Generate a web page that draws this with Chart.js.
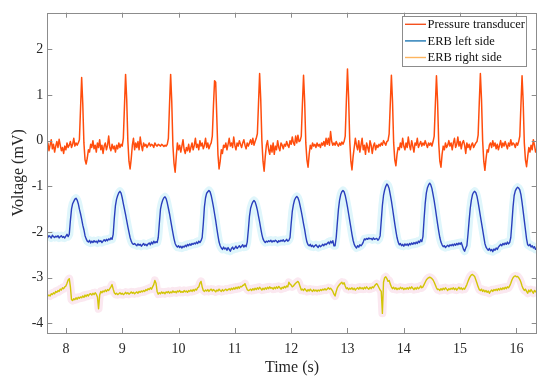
<!DOCTYPE html>
<html>
<head>
<meta charset="utf-8">
<script src="https://cdn.jsdelivr.net/npm/chart.js@4.4.1/dist/chart.umd.min.js"></script>
<style>
  body { margin: 0; background: #fff; }
  canvas { display: block; }
</style>
</head>
<body>
<canvas id="erb-chart" width="550" height="383"></canvas>
<script>
// samples every 20 ms, first sample at 7.66 s
var t0 = 7.66;
var dt = 0.02;

var seriesNames = ['Pressure transducer', 'ERB left side', 'ERB right side'];
var xTicks = [8, 9, 10, 11, 12, 13, 14, 15, 16];
var yTicks = [-4, -3, -2, -1, 0, 1, 2];

// Pressure transducer (mV)
var pressure = [
	-0.2, -0.05, -0.22, -0.1, 0.02, -0.18, -0.08, -0.25, -0.12, -0.02, -0.15, 0.03, -0.1, -0.22, -0.15, -0.28, -0.12, -0.2, -0.05, -0.15,
	-0.1, -0.02, -0.15, -0.08, 0.05, -0.12, -0.05, -0.1, -0.05, 0.02, 0.7, 1.38, 0.8, -0.05, -0.42, -0.51, -0.38, -0.2, -0.25, -0.08,
	-0.15, 0.0, -0.18, -0.1, -0.25, -0.05, -0.15, 0.02, -0.2, -0.1, -0.28, -0.12, -0.05, -0.2, -0.1, 0.1, -0.15, -0.22, -0.08, -0.18,
	-0.12, -0.25, -0.1, -0.18, -0.05, -0.15, -0.08, -0.12, 0.05, 0.75, 1.45, 0.9, 0.0, -0.45, -0.62, -0.4, -0.1, 0.05, -0.2, -0.05,
	-0.15, -0.02, -0.2, 0.08, -0.1, -0.22, -0.05, -0.12, -0.08, -0.15, -0.1, -0.05, -0.12, -0.08, -0.1, -0.15, -0.05, -0.1, -0.12, -0.08,
	-0.1, -0.12, -0.08, -0.1, -0.13, -0.1, -0.12, -0.08, 0.05, 0.78, 1.45, 0.85, -0.1, -0.5, -0.69, -0.35, -0.05, -0.2, -0.1, -0.25,
	-0.12, 0.02, -0.2, -0.28, -0.15, -0.22, -0.08, -0.25, -0.15, -0.05, -0.2, -0.1, 0.05, -0.15, -0.08, -0.2, 0.0, -0.12, -0.05, -0.18,
	-0.1, 0.05, -0.15, -0.05, -0.18, -0.1, -0.05, 0.1, 0.75, 1.31, 1.28, 0.5, -0.3, -0.62, -0.45, -0.2, -0.28, -0.1, -0.15, -0.05,
	-0.2, -0.08, 0.05, -0.12, -0.05, -0.15, 0.08, -0.1, -0.2, -0.05, -0.12, 0.0, -0.08, -0.15, -0.05, 0.02, -0.1, -0.18, -0.05, -0.12,
	-0.05, 0.02, -0.08, 0.05, -0.1, -0.02, 0.05, 0.15, 0.8, 1.47, 0.9, 0.0, -0.45, -0.67, -0.35, -0.1, 0.0, -0.2, -0.3, -0.1,
	-0.25, -0.05, -0.3, -0.12, -0.2, 0.0, -0.15, -0.22, -0.05, -0.1, -0.18, -0.08, -0.12, -0.02, -0.1, -0.15, 0.0, -0.08, 0.08, -0.05,
	-0.1, 0.1, -0.05, 0.12, -0.02, 0.0, 0.1, 0.8, 1.43, 0.85, -0.05, -0.42, -0.58, -0.3, -0.1, -0.18, -0.05, -0.12, -0.08, -0.15,
	-0.05, -0.12, -0.08, -0.15, -0.05, -0.1, -0.02, -0.12, 0.05, -0.08, 0.05, -0.1, 0.2, -0.02, -0.1, -0.05, -0.1, -0.02, -0.08, -0.12,
	-0.05, -0.1, -0.03, -0.08, -0.02, 0.1, 0.85, 1.57, 0.95, 0.0, -0.45, -0.64, -0.35, -0.15, 0.05, -0.1, -0.2, 0.0, -0.25, -0.1,
	0.05, -0.2, -0.1, -0.3, -0.05, -0.15, -0.25, 0.0, -0.1, -0.28, -0.12, -0.05, -0.2, -0.1, -0.15, -0.08, -0.12, -0.05, -0.1, 0.0,
	-0.05, -0.1, -0.02, 0.0, 0.15, 0.8, 1.43, 0.85, -0.05, -0.42, -0.55, -0.3, -0.15, -0.2, -0.05, -0.15, 0.05, -0.12, -0.2, -0.05,
	-0.15, 0.08, -0.1, -0.2, 0.0, -0.12, -0.25, -0.05, -0.1, 0.05, -0.15, -0.08, -0.02, -0.12, -0.05, -0.1, 0.0, -0.08, -0.15, -0.05,
	-0.1, -0.05, -0.12, -0.02, 0.1, 0.78, 1.42, 0.85, -0.05, -0.45, -0.58, -0.3, -0.12, -0.2, -0.05, -0.15, -0.1, 0.0, -0.12, -0.05,
	-0.2, -0.05, 0.05, -0.15, -0.08, 0.08, -0.12, -0.02, -0.18, -0.05, 0.0, -0.1, -0.28, -0.05, -0.15, -0.08, -0.2, -0.1, -0.05, -0.15,
	-0.1, -0.05, -0.02, 0.12, 0.82, 1.47, 0.9, 0.0, -0.45, -0.65, -0.4, -0.2, -0.25, -0.1, -0.05, -0.15, 0.0, -0.12, -0.05, -0.18,
	-0.08, -0.2, -0.1, 0.0, -0.15, -0.05, -0.12, -0.02, -0.1, -0.18, -0.05, -0.12, 0.02, -0.1, -0.05, -0.08, -0.15, -0.05, -0.1, -0.02,
	0.1, 0.78, 1.42, 0.85, -0.05, -0.42, -0.57, -0.35, -0.15, -0.25, -0.1, -0.2, 0.02, -0.1, -0.25, -0.18
];

// ERB left side (mV)
var erbLeft = [
	-2.15, -2.12, -2.08, -2.1, -2.13, -2.07, -2.1, -2.12, -2.09, -2.11, -2.08, -2.13, -2.1, -2.08, -2.12, -2.1, -2.13, -2.09, -2.05, -2.1,
	-2.05, -1.75, -1.5, -1.38, -1.33, -1.28, -1.26, -1.3, -1.38, -1.5, -1.6, -1.72, -1.85, -1.95, -2.08, -2.15, -2.2, -2.22, -2.18, -2.24,
	-2.2, -2.23, -2.19, -2.22, -2.2, -2.24, -2.18, -2.21, -2.19, -2.23, -2.2, -2.17, -2.2, -2.16, -2.19, -2.15, -2.17, -2.13, -2.16, -2.05,
	-1.7, -1.42, -1.28, -1.2, -1.14, -1.11, -1.15, -1.25, -1.38, -1.5, -1.62, -1.75, -1.88, -2.0, -2.12, -2.2, -2.25, -2.27, -2.25, -2.28,
	-2.3, -2.26, -2.29, -2.27, -2.31, -2.28, -2.25, -2.29, -2.27, -2.3, -2.26, -2.24, -2.28, -2.22, -2.26, -2.2, -2.24, -2.21, -2.23, -2.12,
	-1.8, -1.5, -1.38, -1.3, -1.25, -1.23, -1.27, -1.36, -1.48, -1.6, -1.74, -1.88, -2.02, -2.15, -2.25, -2.3, -2.33, -2.3, -2.34, -2.31,
	-2.35, -2.31, -2.33, -2.29, -2.32, -2.27, -2.3, -2.26, -2.29, -2.25, -2.27, -2.24, -2.26, -2.22, -2.25, -2.2, -2.23, -2.19, -2.12, -1.82,
	-1.45, -1.25, -1.15, -1.12, -1.09, -1.12, -1.2, -1.32, -1.45, -1.6, -1.75, -1.92, -2.08, -2.22, -2.3, -2.35, -2.38, -2.33, -2.37, -2.35,
	-2.4, -2.34, -2.38, -2.42, -2.36, -2.33, -2.38, -2.35, -2.31, -2.36, -2.33, -2.3, -2.34, -2.31, -2.28, -2.33, -2.29, -2.32, -2.22, -1.95,
	-1.65, -1.48, -1.4, -1.34, -1.31, -1.34, -1.42, -1.52, -1.65, -1.78, -1.92, -2.05, -2.15, -2.2, -2.23, -2.2, -2.22, -2.19, -2.21, -2.18,
	-2.22, -2.19, -2.21, -2.18, -2.2, -2.23, -2.19, -2.21, -2.18, -2.2, -2.17, -2.21, -2.19, -2.16, -2.2, -2.18, -2.12, -1.82, -1.55, -1.4,
	-1.3, -1.25, -1.22, -1.25, -1.32, -1.43, -1.55, -1.68, -1.82, -1.95, -2.1, -2.22, -2.28, -2.3, -2.27, -2.32, -2.29, -2.33, -2.3, -2.28,
	-2.31, -2.34, -2.29, -2.32, -2.3, -2.27, -2.3, -2.26, -2.28, -2.25, -2.22, -2.26, -2.2, -2.24, -2.19, -2.3, -2.3, -2.12, -1.8, -1.5,
	-1.3, -1.18, -1.12, -1.09, -1.12, -1.2, -1.32, -1.45, -1.6, -1.75, -1.9, -2.05, -2.18, -2.27, -2.32, -2.35, -2.3, -2.33, -2.28, -2.3,
	-2.27, -2.22, -2.15, -2.17, -2.14, -2.16, -2.13, -2.15, -2.14, -2.17, -2.13, -2.16, -2.15, -2.14, -2.18, -2.15, -2.08, -1.75, -1.42, -1.2,
	-1.08, -1.0, -0.95, -0.98, -1.05, -1.18, -1.32, -1.48, -1.65, -1.82, -1.98, -2.12, -2.22, -2.28, -2.25, -2.3, -2.27, -2.31, -2.26, -2.29,
	-2.26, -2.3, -2.25, -2.28, -2.24, -2.27, -2.23, -2.26, -2.22, -2.25, -2.2, -2.23, -2.17, -2.21, -2.1, -1.72, -1.38, -1.15, -1.03, -0.97,
	-0.93, -0.97, -1.05, -1.18, -1.32, -1.48, -1.65, -1.82, -1.98, -2.12, -2.22, -2.28, -2.32, -2.3, -2.34, -2.31, -2.29, -2.32, -2.28, -2.3,
	-2.27, -2.3, -2.26, -2.29, -2.25, -2.28, -2.24, -2.27, -2.23, -2.3, -2.38, -2.42, -2.35, -2.3, -2.05, -1.75, -1.48, -1.3, -1.18, -1.13,
	-1.11, -1.14, -1.22, -1.35, -1.5, -1.65, -1.8, -1.95, -2.1, -2.25, -2.33, -2.37, -2.4, -2.36, -2.41, -2.38, -2.43, -2.37, -2.4, -2.35,
	-2.38, -2.33, -2.3, -2.27, -2.3, -2.25, -2.28, -2.24, -2.27, -2.22, -2.26, -2.23, -2.12, -1.8, -1.45, -1.2, -1.1, -1.05, -1.02, -1.04,
	-1.08, -1.18, -1.35, -1.55, -1.75, -1.95, -2.15, -2.28, -2.3, -2.27, -2.33, -2.3, -2.35, -2.32, -2.38, -2.35
];

// ERB right side (mV)
var erbRight = [
	-3.42, -3.4, -3.38, -3.4, -3.35, -3.37, -3.33, -3.35, -3.3, -3.32, -3.28, -3.3, -3.25, -3.27, -3.22, -3.24, -3.2, -3.18, -3.12, -3.05,
	-3.02, -3.2, -3.48, -3.5, -3.46, -3.48, -3.44, -3.47, -3.43, -3.45, -3.42, -3.44, -3.4, -3.43, -3.38, -3.41, -3.37, -3.4, -3.36, -3.35,
	-3.38, -3.34, -3.37, -3.33, -3.36, -3.42, -3.68, -3.38, -3.3, -3.33, -3.29, -3.31, -3.27, -3.3, -3.26, -3.28, -3.24, -3.2, -3.15, -3.25,
	-3.33, -3.36, -3.34, -3.37, -3.35, -3.33, -3.36, -3.34, -3.37, -3.35, -3.32, -3.35, -3.33, -3.36, -3.34, -3.31, -3.34, -3.32, -3.35, -3.33,
	-3.31, -3.34, -3.3, -3.32, -3.29, -3.31, -3.28, -3.3, -3.26, -3.28, -3.24, -3.26, -3.22, -3.25, -3.2, -3.15, -3.06, -3.12, -3.3, -3.36,
	-3.33, -3.35, -3.31, -3.34, -3.32, -3.35, -3.31, -3.33, -3.3, -3.34, -3.31, -3.33, -3.29, -3.32, -3.3, -3.33, -3.29, -3.31, -3.28, -3.32,
	-3.3, -3.32, -3.28, -3.31, -3.29, -3.32, -3.28, -3.3, -3.27, -3.3, -3.26, -3.29, -3.25, -3.27, -3.22, -3.2, -3.12, -3.08, -3.2, -3.28,
	-3.3, -3.27, -3.29, -3.26, -3.3, -3.27, -3.25, -3.29, -3.26, -3.28, -3.31, -3.27, -3.29, -3.25, -3.28, -3.3, -3.26, -3.29, -3.27, -3.25,
	-3.28, -3.26, -3.24, -3.27, -3.23, -3.26, -3.22, -3.25, -3.21, -3.24, -3.2, -3.23, -3.19, -3.2, -3.17, -3.16, -3.13, -3.2, -3.26, -3.28,
	-3.27, -3.25, -3.28, -3.24, -3.27, -3.23, -3.26, -3.22, -3.25, -3.21, -3.24, -3.27, -3.23, -3.26, -3.22, -3.25, -3.21, -3.24, -3.2, -3.23,
	-3.22, -3.25, -3.21, -3.24, -3.2, -3.23, -3.19, -3.22, -3.25, -3.21, -3.23, -3.19, -3.22, -3.18, -3.2, -3.1, -3.14, -3.16, -3.2, -3.18,
	-3.15, -3.12, -3.1, -3.08, -3.12, -3.2, -3.27, -3.25, -3.28, -3.24, -3.27, -3.3, -3.26, -3.29, -3.25, -3.28, -3.3, -3.26, -3.29, -3.27,
	-3.3, -3.27, -3.29, -3.26, -3.28, -3.25, -3.27, -3.24, -3.27, -3.25, -3.22, -3.25, -3.23, -3.26, -3.3, -3.36, -3.4, -3.3, -3.22, -3.18,
	-3.15, -3.12, -3.1, -3.14, -3.11, -3.18, -3.24, -3.22, -3.26, -3.23, -3.25, -3.22, -3.26, -3.23, -3.27, -3.24, -3.22, -3.25, -3.21, -3.24,
	-3.22, -3.25, -3.21, -3.24, -3.2, -3.23, -3.25, -3.21, -3.24, -3.2, -3.22, -3.18, -3.15, -3.13, -3.17, -3.22, -3.27, -3.3, -3.78, -3.1,
	-3.0, -2.98, -3.02, -3.08, -3.06, -3.14, -3.2, -3.24, -3.21, -3.25, -3.22, -3.26, -3.23, -3.25, -3.21, -3.24, -3.22, -3.26, -3.23, -3.25,
	-3.22, -3.25, -3.21, -3.24, -3.2, -3.23, -3.26, -3.22, -3.25, -3.21, -3.24, -3.22, -3.18, -3.22, -3.2, -3.15, -3.1, -3.05, -3.02, -3.0,
	-2.99, -3.0, -3.02, -3.05, -3.1, -3.16, -3.22, -3.26, -3.25, -3.28, -3.24, -3.27, -3.23, -3.26, -3.22, -3.25, -3.28, -3.24, -3.26, -3.23,
	-3.25, -3.22, -3.26, -3.23, -3.27, -3.24, -3.21, -3.25, -3.22, -3.26, -3.23, -3.25, -3.2, -3.15, -3.08, -3.02, -2.97, -2.94, -2.93, -2.95,
	-2.98, -3.05, -3.12, -3.2, -3.26, -3.28, -3.25, -3.3, -3.27, -3.31, -3.28, -3.32, -3.29, -3.34, -3.3, -3.27, -3.3, -3.26, -3.28, -3.25,
	-3.28, -3.24, -3.27, -3.23, -3.26, -3.22, -3.25, -3.21, -3.24, -3.2, -3.22, -3.18, -3.12, -3.05, -3.0, -2.97, -2.96, -2.98, -2.97, -3.0,
	-3.04, -3.1, -3.18, -3.24, -3.28, -3.25, -3.3, -3.34, -3.27, -3.31, -3.26, -3.3, -3.34, -3.28, -3.31, -3.28
];

var lineColors = ['#ff4d0d', '#2a3fbd', '#d2c506'];
var legendColors = ['#f4511e', '#1f78b4', '#fdb55f'];
var bandColors = ['#dff6fb', '#fbe8f0'];

function toPoints(arr) {
	return arr.map(function (v, i) {
		return { x: +(t0 + i * dt).toFixed(2), y: v };
	});
}

var FONT = "'Liberation Serif', 'Times New Roman', serif";
var AXIS_GRAY = '#8c8c8c';

var PLOT = { left: 47.3, right: 536.7, top: 12.7, bottom: 333 };

// box round the plot with inward ticks on all four sides
var boxTicks = {
	id: 'boxTicks',
	afterDatasetsDraw: function (chart) {
		var ctx = chart.ctx, a = chart.chartArea;
		var xs = chart.scales.x, ys = chart.scales.y;
		ctx.save();
		ctx.strokeStyle = AXIS_GRAY;
		ctx.lineWidth = 1;
		ctx.beginPath();
		xTicks.forEach(function (v) {
			var px = Math.round(xs.getPixelForValue(v)) + 0.5;
			ctx.moveTo(px, a.bottom); ctx.lineTo(px, a.bottom - 5);
			ctx.moveTo(px, a.top); ctx.lineTo(px, a.top + 5);
		});
		yTicks.forEach(function (v) {
			var py = Math.round(ys.getPixelForValue(v)) + 0.5;
			ctx.moveTo(a.left, py); ctx.lineTo(a.left + 5, py);
			ctx.moveTo(a.right, py); ctx.lineTo(a.right - 5, py);
		});
		ctx.stroke();
		ctx.strokeRect(Math.round(a.left) + 0.5, Math.round(a.top) + 0.5,
			Math.round(a.right - a.left), Math.round(a.bottom - a.top));
		ctx.restore();
	}
};

// legend box, top right inside the plot
var boxLegend = {
	id: 'boxLegend',
	afterDraw: function (chart) {
		var ctx = chart.ctx;
		var bx = 402.5, by = 16.5, bw = 124, bh = 50;
		ctx.save();
		ctx.fillStyle = '#fff';
		ctx.fillRect(bx, by, bw, bh);
		ctx.strokeStyle = AXIS_GRAY;
		ctx.lineWidth = 1;
		ctx.strokeRect(bx, by, bw, bh);
		ctx.font = '12.5px ' + FONT;
		ctx.textBaseline = 'middle';
		ctx.fillStyle = '#111';
		seriesNames.forEach(function (name, i) {
			var ly = 24.3 + i * 16.6;
			ctx.strokeStyle = legendColors[i];
			ctx.lineWidth = 1.4;
			ctx.beginPath();
			ctx.moveTo(405, ly); ctx.lineTo(426, ly);
			ctx.stroke();
			ctx.fillText(name, 427.5, ly + 0.5);
		});
		ctx.restore();
	}
};

window.addEventListener('load', function () {
	var ctx = document.getElementById('erb-chart').getContext('2d');
	new Chart(ctx, {
		type: 'line',
		data: {
			datasets: [
				{ label: seriesNames[0], data: toPoints(pressure), borderColor: lineColors[0], borderWidth: 1.5 },
				{ label: seriesNames[1], data: toPoints(erbLeft), borderColor: lineColors[1], borderWidth: 1.4 },
				{ label: seriesNames[2], data: toPoints(erbRight), borderColor: lineColors[2], borderWidth: 1.4 },
				// pale shading under the two ERB traces
				{ label: 'left band', data: toPoints(erbLeft), borderColor: bandColors[0], borderWidth: 8 },
				{ label: 'right band', data: toPoints(erbRight), borderColor: bandColors[1], borderWidth: 8 }
			]
		},
		options: {
			responsive: false,
			animation: false,
			devicePixelRatio: 1,
			events: [],
			elements: {
				point: { radius: 0 },
				line: { tension: 0, borderJoinStyle: 'round' }
			},
			layout: {
				padding: { left: 0, right: 550 - PLOT.right, top: PLOT.top, bottom: 0 }
			},
			plugins: {
				legend: { display: false },
				tooltip: { enabled: false }
			},
			scales: {
				x: {
					type: 'linear',
					min: 7.67,
					max: 16.36,
					afterBuildTicks: function (s) { s.ticks = xTicks.map(function (v) { return { value: v }; }); },
					afterFit: function (s) { s.height = 383 - PLOT.bottom; },
					grid: { display: false, drawTicks: false },
					border: { display: false },
					ticks: {
						padding: 8,
						color: '#262626',
						font: { family: FONT, size: 14 },
						maxRotation: 0,
						callback: function (v) { return String(v); }
					},
					title: {
						display: true,
						text: 'Time (s)',
						color: '#262626',
						font: { family: FONT, size: 16 },
						padding: { top: 0, bottom: 6 }
					}
				},
				y: {
					type: 'linear',
					min: -4.21,
					max: 2.8,
					afterBuildTicks: function (s) { s.ticks = yTicks.map(function (v) { return { value: v }; }); },
					afterFit: function (s) { s.width = PLOT.left; },
					grid: { display: false, drawTicks: false },
					border: { display: false },
					ticks: {
						padding: 4,
						color: '#262626',
						font: { family: FONT, size: 14 },
						callback: function (v) { return String(v); }
					},
					title: {
						display: true,
						text: 'Voltage (mV)',
						color: '#262626',
						font: { family: FONT, size: 16 },
						padding: { top: 9, bottom: 0 }
					}
				}
			}
		},
		plugins: [boxTicks, boxLegend]
	});
});
</script>
</body>
</html>
